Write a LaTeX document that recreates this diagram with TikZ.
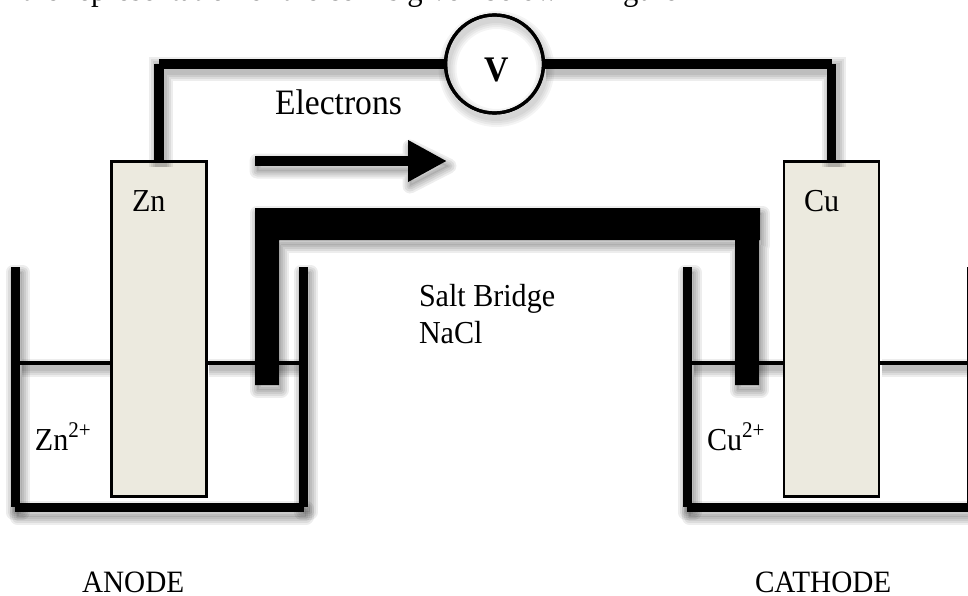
\documentclass[tikz,border=0pt]{standalone}
\usepackage{fontspec}
\setmainfont[FakeStretch=0.94]{Liberation Serif}
\usetikzlibrary{arrows.meta}
\newcommand\softline[3][.07]{%
  \foreach \k in {15,11,7,3}{%
    \draw[black,opacity=#1,line width={(#2+\k)*0.75pt},transform canvas={shift={(2,5)}}] #3;}}
\newcommand\softfill[1]{%
  \foreach \k in {15,11,7,3}{%
    \draw[black,fill=black,draw opacity=.07,fill opacity=.02,line width={\k*0.75pt},line join=round,transform canvas={shift={(2,5)}}] #1;}}
\tikzset{
  x=0.75pt,y=-0.75pt,
  wire/.style={black,line width=6.9pt},
  water/.style={black,line width=2.4pt},
  electrode/.style={draw=black,fill=elec,line width=1.6pt,minimum width=71.2pt,minimum height=251.2pt,inner sep=0pt,outer sep=0pt},
  meter/.style={circle,draw=black,line width=2.4pt,minimum size=73.5pt,inner sep=0pt,outer sep=0pt},
  lab/.style={anchor=base west,inner sep=0pt,outer sep=0pt,text=black,font=\fontsize{24}{28}\selectfont},
}
\definecolor{elec}{HTML}{ECEADF}
\begin{document}
\begin{tikzpicture}
\useasboundingbox (0,0) rectangle (968,596);
\clip (0,0) rectangle (968,596);
% named points
\coordinate (wl1) at (20,363); \coordinate (wl2) at (111,363);
\coordinate (wl3) at (207,363); \coordinate (wl4) at (299,363);
\coordinate (wr1) at (692,363); \coordinate (wr2) at (783,363);
\coordinate (wr3) at (880,363); \coordinate (wr4) at (968,363);
\coordinate (arrowstart) at (255,161); \coordinate (arrowend) at (447,161);
% shadows of beakers and liquid
\softfill{(11,267) rectangle (20,507)}
\softfill{(299,267) rectangle (308,507)}
\softfill{(15,503) rectangle (304,512)}
\softfill{(683,267) rectangle (692,507)}
\softfill{(687,503) rectangle (970,512)}
\softline{3}{(wl1) -- (wl2)}
\softline{3}{(wl3) -- (wl4)}
\softline{3}{(wr1) -- (wr2)}
\softline{3}{(wr3) -- (wr4)}
% liquid surfaces
\draw[water] (wl1) -- (wl2);
\draw[water] (wl3) -- (wl4);
\draw[water] (wr1) -- (wr2);
\draw[water] (wr3) -- (wr4);
% beakers
\fill[black] (11,267) rectangle (20,507);
\fill[black] (299,267) rectangle (308,507);
\fill[black] (15,503) rectangle (304,512);
\fill[black] (683,267) rectangle (692,507);
\fill[black] (687,503) rectangle (970,512);
\fill[black] (967,267) rectangle (976,507);
% electrodes
\node[electrode] (zn) at (159,329) {};
\node[electrode] (cu) at (831.5,329) {};
% salt bridge
\softfill{(255,385) -- (255,208) -- (760,208) -- (760,240) -- (759,240) -- (759,385) -- (735,385) -- (735,240) -- (279,240) -- (279,385) -- cycle}
\fill[black] (255,385) -- (255,208) -- (760,208) -- (760,240) -- (759,240) -- (759,385) -- (735,385) -- (735,240) -- (279,240) -- (279,385) -- cycle;
% electron arrow
\softfill{(255,156) -- (408,156) -- (408,142) -- (447,161) -- (408,181) -- (408,166) -- (255,166) -- cycle}
\draw[black,line width=7.5pt,-{Triangle[length=29.25pt,width=29.25pt]}] (arrowstart) -- (arrowend);
% voltmeter and wires
\node[meter] (volt) at (494.5,64) {};
\softline{9}{(zn.north) -- (zn.north |- volt.west) -- (volt.west)}
\softline{9}{(cu.north) -- (cu.north |- volt.east) -- (volt.east)}
\softline[.045]{3}{(volt) circle[radius=49]}
\draw[wire] (zn.north) -- (zn.north |- volt.west);
\draw[wire] (zn.north |- volt.west) -- (volt.west);
\draw[wire] (cu.north) -- (cu.north |- volt.east);
\draw[wire] (cu.north |- volt.east) -- (volt.east);
\node[meter] at (volt) {};
% labels
\node[lab] (topline) at (22,1) {\fontsize{24.5}{30}\selectfont the representation of the cell is given below in Figure};
\node[lab,font=\fontsize{27}{30}\selectfont\bfseries] (vlab) at (484,81) {V};
\node[lab,font=\fontsize{26.8}{30}\selectfont] (elab) at (275,114) {Electrons};
\node[lab] (znlab) at (132,211) {Zn};
\node[lab] (culab) at (804,211) {Cu};
\node[lab] (salt) at (419,306) {Salt Bridge};
\node[lab] (nacl) at (419,343) {NaCl};
\node[lab] (zn2) at (35,450) {Zn\textsuperscript{2+}};
\node[lab] (cu2) at (707,450) {Cu\textsuperscript{2+}};
\node[lab,font=\fontsize{23.3}{28}\selectfont] (anode) at (82,592.5) {ANODE};
\node[lab,font=\fontsize{23.3}{28}\selectfont] (cathode) at (755,592.5) {CATHODE};
\end{tikzpicture}
\end{document}
